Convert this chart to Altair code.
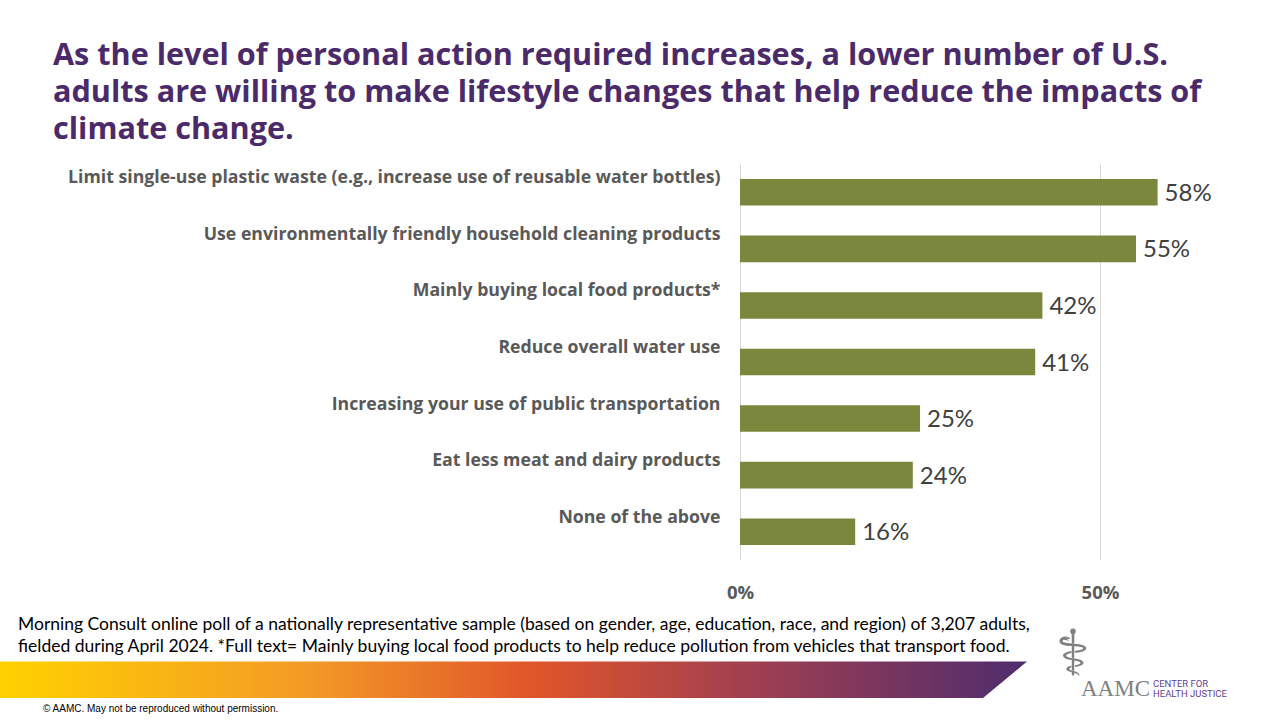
import altair as alt
import pandas as pd

categories = [
    "Limit single-use plastic waste (e.g., increase use of reusable water bottles)",
    "Use environmentally friendly household cleaning products",
    "Mainly buying local food products*",
    "Reduce overall water use",
    "Increasing your use of public transportation",
    "Eat less meat and dairy products",
    "None of the above",
]
values = [58, 55, 42, 41, 25, 24, 16]
tick_values = [0, 50]

title_lines = [
    "As the level of personal action required increases, a lower number of U.S.",
    "adults are willing to make lifestyle changes that help reduce the impacts of",
    "climate change.",
]
note_lines = [
    "Morning Consult online poll of a nationally representative sample (based on gender, age, education, race, and region) of 3,207 adults,",
    "fielded during April 2024. *Full text= Mainly buying local food products to help reduce pollution from vehicles that transport food.",
]
copyright_text = "© AAMC. May not be reproduced without permission."

# plot-area origin in page pixels
OX, OY = 740, 164
PW, PH = 540, 396


def ax(x):
    return x - OX


def ay(y):
    return y - OY


df = pd.DataFrame({"category": categories, "value": values})
one = alt.Data(values=[{}])

x_enc = alt.X(
    "value:Q",
    scale=alt.Scale(domain=[0, 75], nice=False),
    axis=alt.Axis(
        values=tick_values,
        labelExpr="datum.value + '%'",
        title=None,
        domain=False,
        ticks=False,
        tickSize=0,
        grid=True,
        gridColor="#d9d9d9",
        gridWidth=1,
        labelFont="Open Sans",
        labelFontWeight="bold",
        labelFontSize=18.5,
        labelColor="#595959",
        labelBaseline="alphabetic",
        labelPadding=38,
        labelFlush=False,
    ),
)
y_enc = alt.Y(
    "category:N",
    sort=categories,
    scale=alt.Scale(paddingInner=0.53, paddingOuter=0.265),
    axis=alt.Axis(
        title=None,
        domain=False,
        ticks=False,
        tickSize=0,
        labelFont="Open Sans",
        labelFontWeight="bold",
        labelFontSize=17.7,
        labelColor="#595959",
        labelBaseline="alphabetic",
        labelOffset=-9,
        labelPadding=20,
        labelLimit=900,
        labelAlign="right",
    ),
)

bars = alt.Chart(df).mark_bar(color="#7b873c").encode(x=x_enc, y=y_enc)

value_labels = (
    alt.Chart(df)
    .transform_calculate(label="datum.value + '%'")
    .mark_text(
        align="left",
        baseline="alphabetic",
        dx=7,
        dy=8.5,
        font="Lato",
        fontSize=24,
        color="#404040",
    )
    .encode(x="value:Q", y=alt.Y("category:N", sort=categories), text="label:N")
)

title = alt.Chart(one).mark_text(
    text=title_lines,
    align="left",
    baseline="alphabetic",
    lineHeight=37,
    font="Open Sans",
    fontWeight="bold",
    fontSize=30.6,
    color="#4b2a6a",
).encode(x=alt.value(ax(53)), y=alt.value(ay(65)))

note = alt.Chart(one).mark_text(
    text=note_lines,
    align="left",
    baseline="alphabetic",
    lineHeight=22,
    font="Lato",
    fontSize=17.5,
    color="#000000",
).encode(x=alt.value(ax(18)), y=alt.value(ay(630)))

band_path = "M0,0 L1027,0 L983,36.5 L0,36.5 Z"
band = alt.Chart(one).mark_point(
    shape=band_path,
    size=4,
    filled=True,
    opacity=1,
    strokeWidth=0,
    fill=alt.Gradient(
        gradient="linear",
        stops=[
            alt.GradientStop(color="#ffd200", offset=0),
            alt.GradientStop(color="#f39a26", offset=0.3),
            alt.GradientStop(color="#e0552a", offset=0.52),
            alt.GradientStop(color="#a3404f", offset=0.72),
            alt.GradientStop(color="#4f2c6e", offset=1),
        ],
        x1=0, x2=1, y1=0, y2=0,
    ),
).encode(x=alt.value(ax(0)), y=alt.value(ay(661.5)))

copyright_mark = alt.Chart(one).mark_text(
    text=copyright_text,
    align="left",
    baseline="alphabetic",
    font="Liberation Sans",
    fontSize=10,
    color="#000000",
).encode(x=alt.value(ax(43)), y=alt.value(ay(712)))

staff = alt.Chart(one).mark_text(
    text="⚕",
    align="center",
    baseline="middle",
    font="DejaVu Sans",
    fontSize=64,
    fontWeight="bold",
    color="#808080",
).encode(x=alt.value(ax(1073)), y=alt.value(ay(656)))

aamc = alt.Chart(one).mark_text(
    text="AAMC",
    align="left",
    baseline="alphabetic",
    font="Liberation Serif",
    fontSize=23,
    color="#7f7f7f",
).encode(x=alt.value(ax(1081)), y=alt.value(ay(696)))

chj = alt.Chart(one).mark_text(
    text=["CENTER FOR", "HEALTH JUSTICE"],
    align="left",
    baseline="alphabetic",
    lineHeight=10,
    font="Roboto",
    fontSize=9.5,
    color="#5f3f8f",
).encode(x=alt.value(ax(1153)), y=alt.value(ay(686.5)))

chart = (
    alt.layer(bars, value_labels, title, note, band, copyright_mark, staff, aamc, chj)
    .properties(
        width=PW,
        height=PH,
        padding={"left": OX, "top": OY, "right": 1280 - OX - PW, "bottom": 720 - OY - PH},
        autosize="none",
        background="#ffffff",
    )
    .configure_view(stroke=None)
)

chart.save("out.html", embed_options={"renderer": "svg", "actions": False})
